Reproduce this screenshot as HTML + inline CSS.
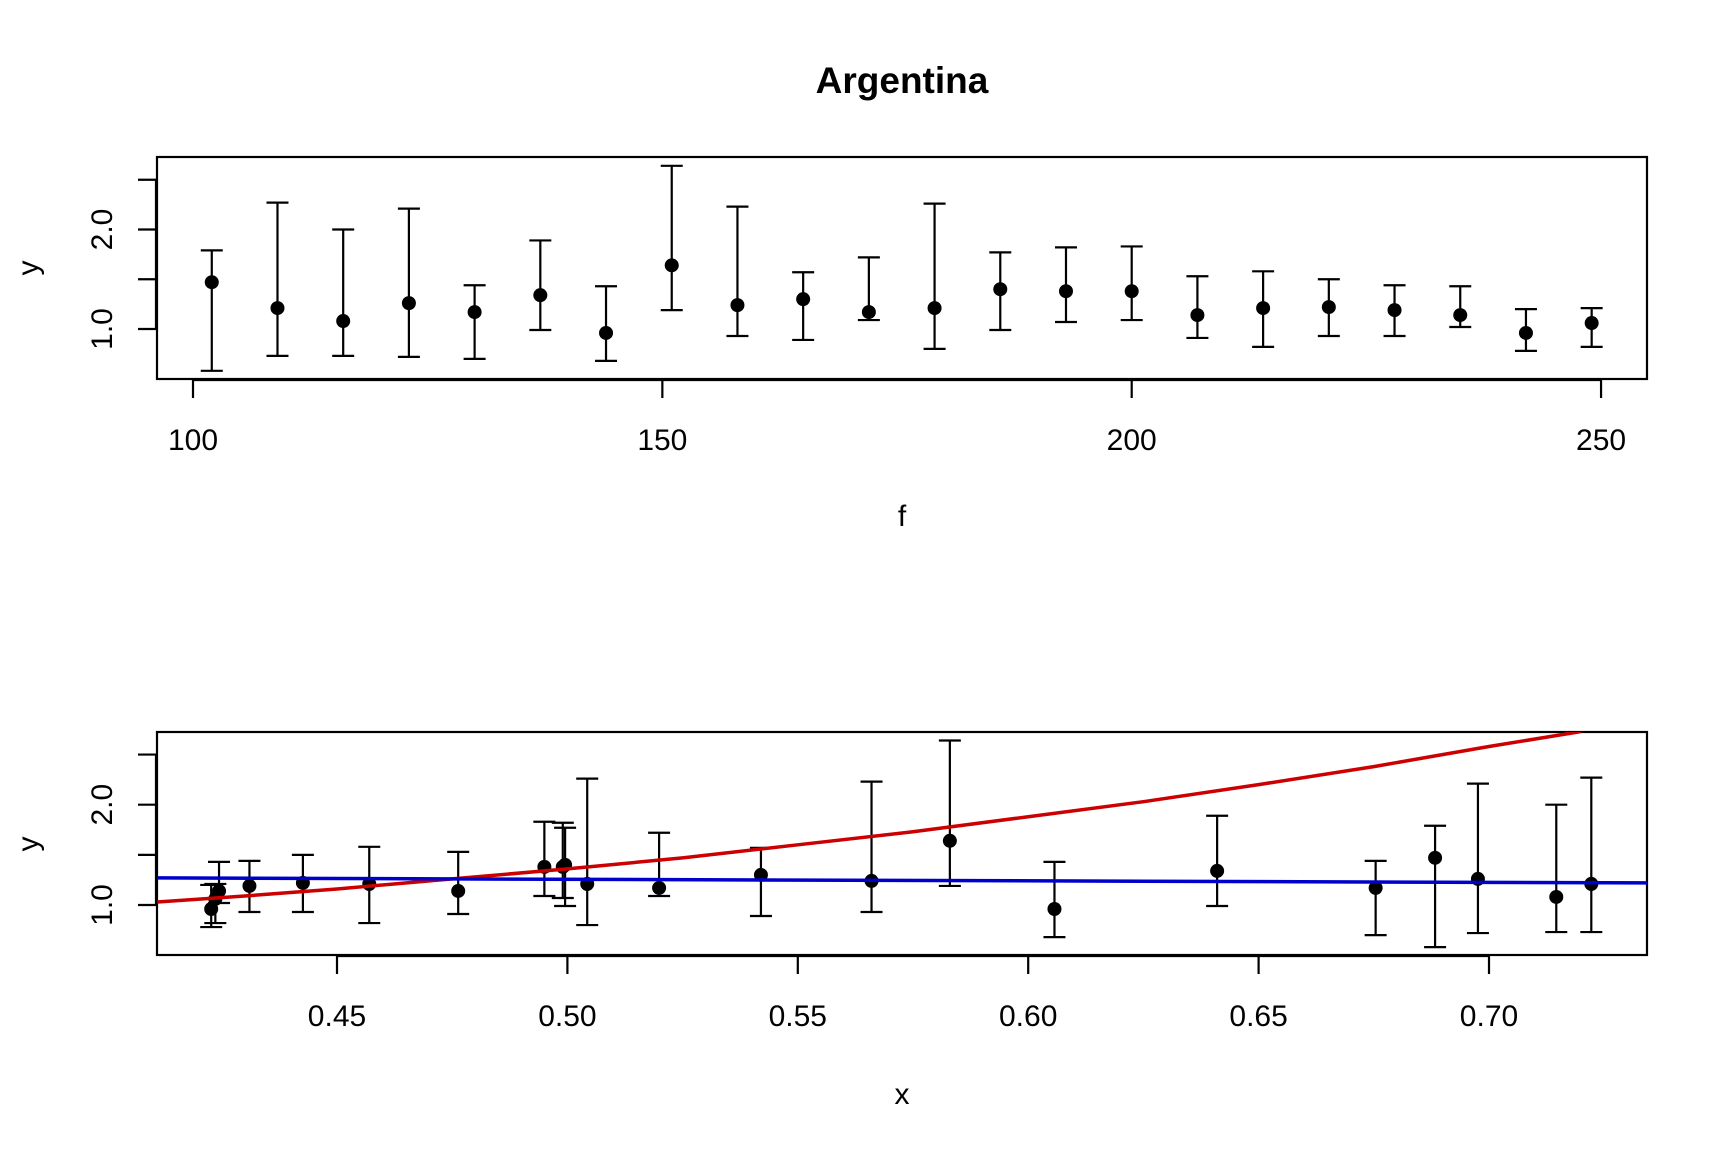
<!DOCTYPE html>
<html><head><meta charset="utf-8"><style>
html,body{margin:0;padding:0;background:#fff;}
svg{display:block;font-family:"Liberation Sans",Arial,sans-serif;}
</style></head><body>
<svg id="chart" width="1728" height="1152" viewBox="0 0 1728 1152" xmlns="http://www.w3.org/2000/svg">
<rect width="1728" height="1152" fill="#fff"/>
<text x="902" y="93" text-anchor="middle" font-size="37" font-weight="bold">Argentina</text>
<text x="902" y="526" text-anchor="middle" font-size="30">f</text>
<text transform="translate(38,268) rotate(-90)" text-anchor="middle" font-size="30">y</text>
<text x="902" y="1104" text-anchor="middle" font-size="30">x</text>
<text transform="translate(38,844) rotate(-90)" text-anchor="middle" font-size="30">y</text>
<g id="top"></g>
<g id="bot"></g>
</svg>
<script>
const fVals = [102,109,116,123,130,137,144,151,158,165,172,179,186,193,200,207,214,221,228,235,242,249];
const yVals = [1.47,1.21,1.08,1.26,1.17,1.34,0.96,1.64,1.24,1.30,1.17,1.21,1.40,1.38,1.38,1.14,1.21,1.22,1.19,1.14,0.96,1.06];
const yUpper = [1.79,2.27,2.00,2.21,1.44,1.89,1.43,2.64,2.23,1.57,1.72,2.26,1.77,1.82,1.83,1.53,1.58,1.50,1.44,1.43,1.20,1.21];
const yLower = [0.58,0.73,0.73,0.72,0.70,0.99,0.68,1.19,0.93,0.89,1.09,0.80,0.99,1.07,1.09,0.91,0.82,0.93,0.93,1.02,0.78,0.82];
const xVals = [0.6883,0.7222,0.7146,0.6976,0.6754,0.641,0.6057,0.583,0.566,0.542,0.5199,0.5043,0.4995,0.499,0.495,0.4763,0.457,0.4426,0.431,0.4244,0.4227,0.4236];
const topXTicks = [100,150,200,250];
const botXTicks = [0.45,0.50,0.55,0.60,0.65,0.70];
const botXTickLabels = ["0.45","0.50","0.55","0.60","0.65","0.70"];
const yTicks = [1.0,1.5,2.0,2.5];
const yTickLabels = ["1.0","","2.0",""];
const redX = [0.411,0.43,0.45,0.475,0.50,0.525,0.55,0.575,0.60,0.625,0.65,0.675,0.70,0.72];
const redY = [1.03,1.09,1.16,1.26,1.36,1.47,1.60,1.73,1.88,2.03,2.20,2.38,2.58,2.73];
const blueX = [0.411,0.735];
const blueY = [1.27,1.22];

const NS="http://www.w3.org/2000/svg";
function mk(parent,tag,attrs){const e=document.createElementNS(NS,tag);for(const k in attrs)e.setAttribute(k,attrs[k]);parent.appendChild(e);return e;}

function panel(g,box,xs,ys,xTicks,xLabels,yTicks,yLabels,xData,name){
  const b=mk(g,'rect',{x:box.l,y:box.t,width:box.r-box.l,height:box.b-box.t,fill:'none',stroke:'#000','stroke-width':2.2});
  
  
  const xa=mk(g,'line',{x1:xs(xTicks[0]),x2:xs(xTicks[xTicks.length-1]),y1:box.b+1,y2:box.b+1,stroke:'#000','stroke-width':2.2});
  
  
  xTicks.forEach((t,i)=>{
    const l=mk(g,'line',{x1:xs(t),x2:xs(t),y1:box.b,y2:box.b+19,stroke:'#000','stroke-width':2.2});
    
    
    const tx=mk(g,'text',{x:xs(t),y:box.b+71,'text-anchor':'middle','font-size':30});
    tx.textContent=xLabels[i];
    
    
  });
  const ya=mk(g,'line',{x1:box.l-1,x2:box.l-1,y1:ys(yTicks[0]),y2:ys(yTicks[yTicks.length-1]),stroke:'#000','stroke-width':2.2});
  
  
  yTicks.forEach((t,i)=>{
    const l=mk(g,'line',{x1:box.l-19,x2:box.l,y1:ys(t),y2:ys(t),stroke:'#000','stroke-width':2.2});
    
    
    if(yLabels[i]){
      const tx=mk(g,'text',{transform:`translate(${box.l-45},${ys(t)}) rotate(-90)`,'text-anchor':'middle','font-size':30});
      tx.textContent=yLabels[i];
      
      
    }
  });
  xData.forEach((xv,i)=>{
    const x=xs(xv);
    const eb=mk(g,'path',{d:`M${x},${ys(yLower[i])}V${ys(yUpper[i])}M${x-11},${ys(yUpper[i])}H${x+11}M${x-11},${ys(yLower[i])}H${x+11}`,stroke:'#000','stroke-width':2.2,fill:'none'});
    
    
    const c=mk(g,'circle',{cx:x,cy:ys(yVals[i]),r:7,fill:'#000'});
    
    
  });
}

const tBox={l:157,r:1647,t:157,b:379};
const txs=f=>193+(f-100)*9.387;
const tys=v=>329-(v-1)*99.5;
panel(document.getElementById('top'),tBox,txs,tys,topXTicks,topXTicks.map(String),yTicks,yTickLabels,fVals,'top');

const bBox={l:157,r:1647,t:732,b:955};
const bxs=v=>337+(v-0.45)*4608;
const bys=v=>905-(v-1)*100.3;
const bg=document.getElementById('bot');
const cp=mk(bg,'clipPath',{id:'bclip'});
mk(cp,'rect',{x:bBox.l,y:bBox.t,width:bBox.r-bBox.l,height:bBox.b-bBox.t});
panel(bg,bBox,bxs,bys,botXTicks,botXTickLabels,yTicks,yTickLabels,xVals,'bottom');
const red=mk(bg,'polyline',{points:redX.map((x,i)=>bxs(x)+','+bys(redY[i])).join(' '),fill:'none',stroke:'#cc0000','stroke-width':3.5,'clip-path':'url(#bclip)'});


const blue=mk(bg,'polyline',{points:blueX.map((x,i)=>bxs(x)+','+bys(blueY[i])).join(' '),fill:'none',stroke:'#0000cc','stroke-width':3.5,'clip-path':'url(#bclip)'});


</script>
</body></html>
